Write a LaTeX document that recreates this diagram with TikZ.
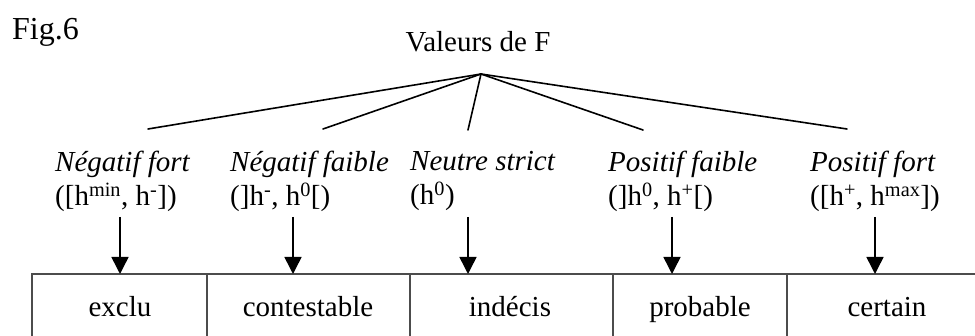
\documentclass[tikz,border=0pt]{standalone}
\usepackage{fontspec}
\setmainfont{Liberation Serif}
\usetikzlibrary{arrows.meta}
\tikzset{
  fan/.style={line width=1.6pt, black},
  arr/.style={line width=1.5pt, black, -{Triangle[length=17pt,width=17pt]}},
  cellbox/.style={draw=black!70, line width=1.8pt, rectangle, inner sep=0pt},
  lbl/.style={anchor=north west, inner sep=0pt, align=left, font=\fontsize{29}{34}\selectfont},
  txt/.style={anchor=base, inner sep=0pt, font=\fontsize{29}{34}\selectfont}
}
\begin{document}
\begin{tikzpicture}[x=1pt,y=-1pt]
\clip (0,0) rectangle (975,336);
\fill[white] (0,0) rectangle (975,336);
% title
\node[anchor=base west, inner sep=0pt, font=\fontsize{32}{36}\selectfont] (fig) at (12,40) {Fig.6};
\node[txt] (root) at (478,52) {Valeurs de F};
% fan
\coordinate (apex) at (481,74);
\coordinate (f1) at (148,129);
\coordinate (f2) at (323,129);
\coordinate (f3) at (468,130);
\coordinate (f4) at (643,130);
\coordinate (f5) at (847,129);
\foreach \i in {1,...,5} \draw[fan, line cap=round] (apex) -- (f\i);
% labels
\node[lbl] (l1) at (55,151) {\textit{Négatif fort}\\([h\textsuperscript{min}, h\textsuperscript{-}])};
\node[lbl] (l2) at (230,151) {\textit{Négatif faible}\\(]h\textsuperscript{-}, h\textsuperscript{0}[)};
\node[lbl] (l3) at (410,151) {\textit{Neutre strict}\\(h\textsuperscript{0})};
\node[lbl] (l4) at (608,151) {\textit{Positif faible}\\(]h\textsuperscript{0}, h\textsuperscript{+}[)};
\node[lbl] (l5) at (810,151) {\textit{Positif fort}\\([h\textsuperscript{+}, h\textsuperscript{max}])};
% cells
\draw[cellbox] (32,274) rectangle (207,400);
\draw[cellbox] (207,274) rectangle (410,400);
\draw[cellbox] (410,274) rectangle (613,400);
\draw[cellbox] (613,274) rectangle (787,400);
\draw[cellbox] (787,274) rectangle (990,400);
\node[txt] (c1) at (120,317) {exclu};
\node[txt] (c2) at (308,317) {contestable};
\node[txt] (c3) at (510,317) {indécis};
\node[txt] (c4) at (700,317) {probable};
\node[txt] (c5) at (887,317) {certain};
% arrows
\coordinate (a1) at (120,217); \coordinate (b1) at (120,274);
\coordinate (a2) at (293,217); \coordinate (b2) at (293,274);
\coordinate (a3) at (468,217); \coordinate (b3) at (468,274);
\coordinate (a4) at (672,217); \coordinate (b4) at (672,274);
\coordinate (a5) at (875,217); \coordinate (b5) at (875,274);
\foreach \i in {1,...,5} \draw[arr] (a\i) -- (b\i);
\end{tikzpicture}
\end{document}
